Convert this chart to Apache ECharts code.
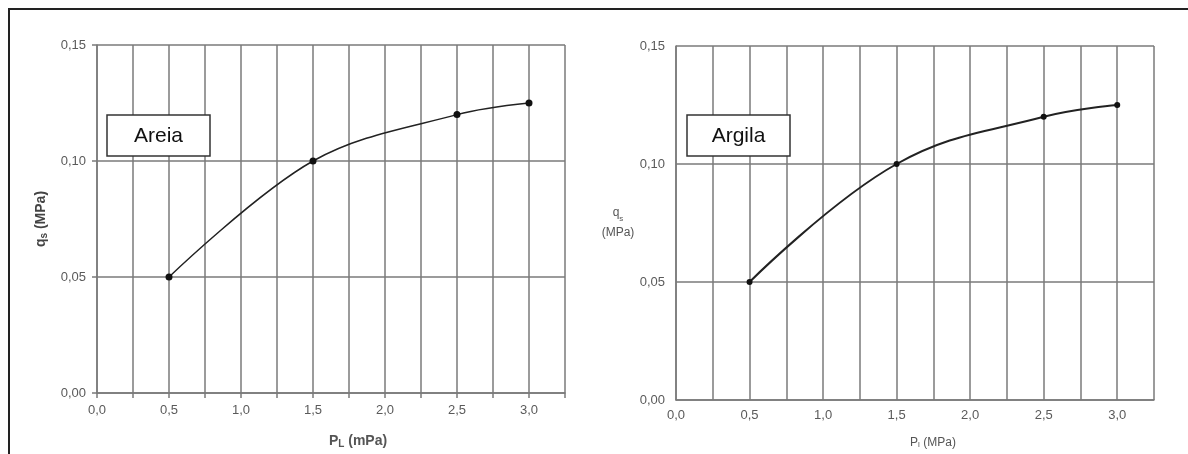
<!DOCTYPE html>
<html>
<head>
<meta charset="utf-8">
<script src="https://cdn.jsdelivr.net/npm/echarts@6/dist/echarts.min.js"></script>
<style>html,body{margin:0;padding:0;background:#fff}#c{width:1188px;height:454px}</style>
</head>
<body>
<div id="c"></div>
<script>
// Data
const pressureX = [0.5, 1.5, 2.5, 3.0];
const areiaQs = [0.05, 0.10, 0.12, 0.125];
const argilaQs = [0.05, 0.10, 0.12, 0.125];
const yTicks = [0, 0.05, 0.10, 0.15];
const xRange = [0, 3.25];
const panelTitles = ['Areia', 'Argila'];

const chart = echarts.init(document.getElementById('c'), null, {renderer: 'canvas'});
const FONT = 'Liberation Sans, Arial, sans-serif';
const gridColor = '#7a7a7a';
const labelColor = '#5a5a5a';

function yFmt(v) { return v.toFixed(2).replace('.', ','); }
function xFmt(v) {
  const r = Math.round(v * 100) / 100;
  return (Math.abs(r * 2 - Math.round(r * 2)) < 1e-6) ? r.toFixed(1).replace('.', ',') : '';
}

function xAxisCfg(idx, withTicks, name, nameStyle) {
  return {
    type: 'value', gridIndex: idx, min: xRange[0], max: xRange[1], interval: 0.25,
    axisLine: {show: true, lineStyle: {color: gridColor, width: 1.5}},
    axisTick: {show: withTicks, length: 5, lineStyle: {color: gridColor, width: 1.5}},
    axisLabel: {formatter: xFmt, color: labelColor, fontSize: 13, fontFamily: FONT, margin: withTicks ? 11 : 9, showMaxLabel: true},
    splitLine: {show: true, lineStyle: {color: gridColor, width: 1.5}},
    name: name, nameLocation: 'middle', nameGap: nameStyle.gap,
    nameTextStyle: nameStyle.style
  };
}
function yAxisCfg(idx, withTicks, name, nameStyle) {
  return {
    type: 'value', gridIndex: idx, min: 0, max: 0.15, interval: 0.05,
    axisLine: {show: true, lineStyle: {color: gridColor, width: 1.5}},
    axisTick: {show: withTicks, length: 5, lineStyle: {color: gridColor, width: 1.5}},
    axisLabel: {formatter: yFmt, color: labelColor, fontSize: 13, fontFamily: FONT, margin: 11},
    splitLine: {show: true, lineStyle: {color: gridColor, width: 1.5}},
    name: name, nameLocation: 'middle', nameGap: nameStyle.gap, nameRotate: nameStyle.rotate,
    nameTextStyle: nameStyle.style
  };
}

function textBox(x, y, txt) {
  return [
    {type: 'rect', z: 100, zlevel: 0, shape: {x: x, y: y, width: 103, height: 41}, style: {fill: '#fff', stroke: '#333', lineWidth: 1.5}},
    {type: 'text', z: 101, zlevel: 0, x: x + 51.5, y: y + 21, style: {text: txt, font: '21px ' + FONT, fill: '#111', textAlign: 'center', textVerticalAlign: 'middle'}}
  ];
}

const option = {
  backgroundColor: '#fff',
  animation: false,
  grid: [
    {left: 97, top: 45, width: 468, height: 352},
    {left: 676, top: 46, width: 478, height: 357}
  ],
  xAxis: [
    xAxisCfg(0, true, '{a|P}{s|L}{a| (mPa)}', {gap: 40, style: {
      padding: [0, 0, 0, 54],
      rich: {
        a: {fontSize: 14, fontWeight: 'bold', fontFamily: FONT, color: '#555'},
        s: {fontSize: 10, fontWeight: 'bold', fontFamily: FONT, color: '#555', verticalAlign: 'bottom', padding: [6, 0, 0, 0]}
      }}}),
    xAxisCfg(1, false, '{a|P}{s|l}{a| (MPa)}', {gap: 36, style: {
      padding: [0, 0, 0, 36],
      rich: {
        a: {fontSize: 12, fontFamily: FONT, color: '#555'},
        s: {fontSize: 8, fontFamily: FONT, color: '#555', verticalAlign: 'bottom', padding: [5, 0, 0, 0]}
      }}})
  ],
  yAxis: [
    yAxisCfg(0, true, '{a|q}{s|s}{a| (MPa)}', {gap: 48, rotate: 90, style: {
      rich: {
        a: {fontSize: 14, fontWeight: 'bold', fontFamily: FONT, color: '#444'},
        s: {fontSize: 10, fontWeight: 'bold', fontFamily: FONT, color: '#444', verticalAlign: 'bottom', padding: [6, 0, 0, 0]}
      }}}),
    yAxisCfg(1, false, '{a|q}{s|s}\n{a|(MPa)}', {gap: 58, rotate: 0, style: {
      align: 'center',
      rich: {
        a: {fontSize: 12, fontFamily: FONT, color: '#555', lineHeight: 20},
        s: {fontSize: 8, fontFamily: FONT, color: '#555', verticalAlign: 'bottom', lineHeight: 20, padding: [4, 0, 0, 0]}
      }}})
  ],
  series: [
    {type: 'line', xAxisIndex: 0, yAxisIndex: 0, smooth: 0.35,
     data: pressureX.map((x, i) => [x, areiaQs[i]]),
     symbol: 'circle', symbolSize: 7, itemStyle: {color: '#111'},
     lineStyle: {color: '#222', width: 1.5}, z: 5},
    {type: 'line', xAxisIndex: 1, yAxisIndex: 1, smooth: 0.4,
     data: pressureX.map((x, i) => [x, argilaQs[i]]),
     symbol: 'circle', symbolSize: 6, itemStyle: {color: '#111'},
     lineStyle: {color: '#222', width: 2}, z: 5}
  ],
  graphic: {elements: [
    {type: 'rect', z: 100, shape: {x: 9, y: 9, width: 1300, height: 600}, style: {fill: 'none', stroke: '#222', lineWidth: 2}}
  ].concat(textBox(107, 115, panelTitles[0]), textBox(687, 115, panelTitles[1]))}
};
chart.setOption(option);
</script>
</body>
</html>
